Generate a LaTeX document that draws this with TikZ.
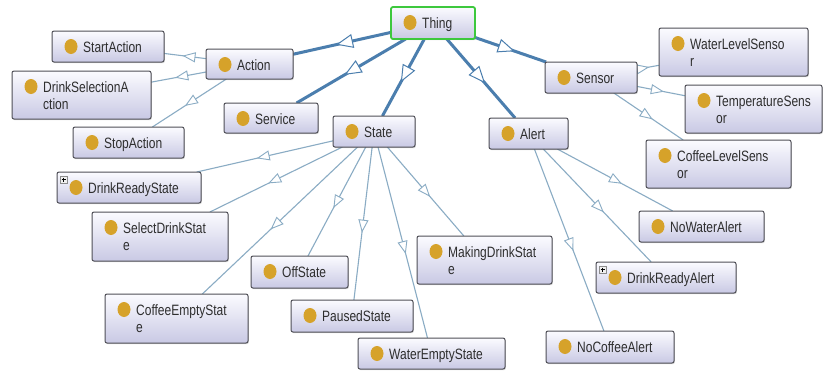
\documentclass[tikz,border=0pt]{standalone}
\usepackage{fontspec}
\newfontfamily\lblfont{Liberation Sans}[FakeStretch=0.8]
\usetikzlibrary{arrows.meta,decorations.markings,shadows}
\definecolor{dotc}{HTML}{D6A22A}
\definecolor{bord}{HTML}{4F4F57}
\definecolor{boxtop}{HTML}{FBFBFF}
\definecolor{boxbot}{HTML}{C9C9E4}
\definecolor{thickc}{HTML}{4B7EAE}
\definecolor{thinc}{HTML}{8AACC4}
\definecolor{txtc}{HTML}{2E2E2E}
\definecolor{thingc}{HTML}{3DC83D}
\pgfdeclarelayer{bg}
\pgfsetlayers{bg,main}
\tikzset{
  cbox/.style={rectangle, rounded corners=2pt, draw=bord, line width=1pt,
    top color=boxtop, bottom color=boxbot, inner sep=0pt, outer sep=0pt,
    drop shadow={shadow xshift=0.8pt, shadow yshift=-1.2pt, opacity=0.3}},
  clbl/.style={anchor=base west, inner sep=0pt,
    font=\lblfont\fontsize{15}{16}\selectfont, text=txtc},
  thickedge/.style={draw=thickc, line width=3pt, postaction={decorate},
    decoration={markings, mark=at position 0.56 with
      {\arrow{Triangle[length=17pt,width=14pt,fill=white,line width=1pt]}}}},
  thinedge/.style={draw=thinc, line width=1.1pt, postaction={decorate},
    decoration={markings, mark=at position 0.56 with
      {\arrow{Triangle[length=13pt,width=10pt,fill=white,line width=0.9pt]}}}},
  plusbox/.style={draw=black!45, fill=black!6, line width=0.6pt}
}
% #1 extra style, #2 name, #3 x1, #4 y1, #5 x2, #6 y2, #7 text
\newcommand\owlcls[7][]{%
  \node[cbox,#1, anchor=north west, minimum width={(#5-#3)*1pt},
        minimum height={(#6-#4)*1pt}] (#2) at (#3,#4) {};
  \fill[dotc] (#3+19,#4+15.5) ellipse [x radius=6.5pt, y radius=7.5pt];
  \node[clbl] (#2-a) at (#3+31,#4+21.5) {#7};
}
\newcommand\owlclsii[7]{%
  \owlcls{#1}{#2}{#3}{#4}{#5}{#6}%
  \node[clbl] (#1-b) at (#2+31,#3+38) {#7};
}
\newcommand\plusicon[2]{%
  \draw[plusbox] (#1+3,#2+4) rectangle (#1+10,#2+11);
  \draw[black, line width=0.7pt] (#1+4.5,#2+7.5) -- (#1+8.5,#2+7.5)
        (#1+6.5,#2+5.5) -- (#1+6.5,#2+9.5);
}
\begin{document}
\begin{tikzpicture}[x=1pt,y=-1pt]
\useasboundingbox (0,0) rectangle (823,370);

\owlcls[draw=thingc, line width=1.8pt]{Thing}{391}{7}{475}{39}{Thing}
\owlcls{Action}{206}{49}{293}{79}{Action}
\owlcls{StartAction}{52}{31}{164}{62}{StartAction}
\owlclsii{DrinkSelectionAction}{12}{71}{151}{119}{DrinkSelectionA}{ction}
\owlcls{Service}{224}{103}{318}{133}{Service}
\owlcls{StopAction}{73}{127}{184}{158}{StopAction}
\owlcls{State}{333}{116}{415}{147}{State}
\owlcls{Alert}{489}{118}{568}{149}{Alert}
\owlcls{Sensor}{545}{62}{637}{93}{Sensor}
\owlclsii{WaterLevelSensor}{659}{28}{808}{76}{WaterLevelSenso}{r}
\owlclsii{TemperatureSensor}{685}{85}{822}{133}{TemperatureSens}{or}
\owlclsii{CoffeeLevelSensor}{646}{140}{791}{188}{CoffeeLevelSens}{or}
\owlcls{DrinkReadyState}{57}{172}{201}{203}{DrinkReadyState}
\plusicon{57}{172}
\owlclsii{SelectDrinkState}{92}{212}{228}{261}{SelectDrinkStat}{e}
\owlclsii{CoffeeEmptyState}{105}{294}{248}{343}{CoffeeEmptyStat}{e}
\owlcls{OffState}{251}{256}{348}{288}{OffState}
\owlcls{PausedState}{291}{300}{413}{332}{PausedState}
\owlcls{WaterEmptyState}{358}{338}{505}{369}{WaterEmptyState}
\owlclsii{MakingDrinkState}{417}{236}{552}{284}{MakingDrinkStat}{e}
\owlcls{NoWaterAlert}{639}{211}{764}{242}{NoWaterAlert}
\owlcls{DrinkReadyAlert}{596}{262}{736}{293}{DrinkReadyAlert}
\plusicon{596}{262}
\owlcls{NoCoffeeAlert}{546}{331}{674}{363}{NoCoffeeAlert}

\begin{pgfonlayer}{bg}
\fill[white] (0,0) rectangle (823,370);
\draw[thickedge] (Thing) -- (Action);
\draw[thickedge] (Thing) -- (Service);
\draw[thickedge] (Thing) -- (State);
\draw[thickedge] (Thing) -- (Alert);
\draw[thickedge] (Thing) -- (Sensor);
\draw[thinedge] (Action) -- (StartAction);
\draw[thinedge] (Action) -- (DrinkSelectionAction);
\draw[thinedge] (Action) -- (StopAction);
\draw[thinedge] (Sensor) -- (WaterLevelSensor);
\draw[thinedge] (Sensor) -- (TemperatureSensor);
\draw[thinedge] (Sensor) -- (CoffeeLevelSensor);
\draw[thinedge] (State) -- (DrinkReadyState);
\draw[thinedge] (State) -- (SelectDrinkState);
\draw[thinedge] (State) -- (CoffeeEmptyState);
\draw[thinedge] (State) -- (OffState);
\draw[thinedge] (State) -- (PausedState);
\draw[thinedge] (State) -- (WaterEmptyState);
\draw[thinedge] (State) -- (MakingDrinkState);
\draw[thinedge] (Alert) -- (NoWaterAlert);
\draw[thinedge] (Alert) -- (DrinkReadyAlert);
\draw[thinedge] (Alert) -- (NoCoffeeAlert);
\end{pgfonlayer}
\end{tikzpicture}
\end{document}
